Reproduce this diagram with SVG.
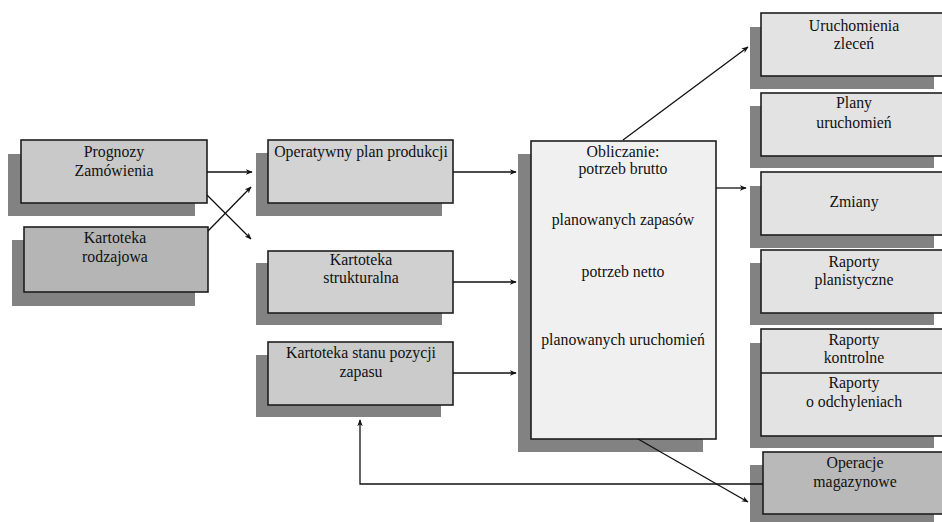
<svg xmlns="http://www.w3.org/2000/svg" width="942" height="522" viewBox="0 0 942 522">
  <style>
    .shadow { fill: #828282; }
    .box { stroke: #1e1e1e; stroke-width: 1.6; }
    text { font-family: 'Liberation Serif', 'DejaVu Serif', serif; font-size: 15.8px; fill: #111; text-anchor: middle; }
    .wire { fill: none; stroke: #111; stroke-width: 1.3; }
  </style>
  <defs>
    <marker id="arrow" viewBox="0 0 10 10" refX="9" refY="5" markerWidth="7" markerHeight="7" orient="auto" markerUnits="userSpaceOnUse">
      <path d="M0,1 L10,5 L0,9 L3,5 Z" fill="#111"/>
    </marker>
  </defs>
  <rect width="942" height="522" fill="#ffffff"/>

  <!-- inputs -->
  <g id="prognozy">
    <rect class="shadow" x="8" y="154" width="187" height="62"/>
    <rect class="box" x="21" y="140" width="186" height="63" fill="#c9c9c9"/>
    <text x="114" y="157">Prognozy</text>
    <text x="114" y="176">Zamówienia</text>
  </g>
  <g id="kartoteka-rodzajowa">
    <rect class="shadow" x="12" y="240" width="183" height="66"/>
    <rect class="box" x="24" y="227" width="184" height="65" fill="#b5b5b5"/>
    <text x="115" y="243">Kartoteka</text>
    <text x="115" y="262">rodzajowa</text>
  </g>

  <!-- files -->
  <g id="plan-produkcji">
    <rect class="shadow" x="256" y="153" width="186" height="63"/>
    <rect class="box" x="268" y="140" width="185" height="63" fill="#d3d3d3"/>
    <text x="361" y="157">Operatywny plan produkcji</text>
  </g>
  <g id="kartoteka-strukturalna">
    <rect class="shadow" x="256" y="263" width="186" height="62"/>
    <rect class="box" x="268" y="251" width="185" height="62" fill="#d0d0d0"/>
    <text x="361" y="265">Kartoteka</text>
    <text x="361" y="283">strukturalna</text>
  </g>
  <g id="kartoteka-stanu">
    <rect class="shadow" x="256" y="355" width="185" height="62"/>
    <rect class="box" x="268" y="342" width="185" height="63" fill="#cbcbcb"/>
    <text x="361" y="358">Kartoteka stanu pozycji</text>
    <text x="361" y="377">zapasu</text>
  </g>

  <!-- calculation -->
  <g id="obliczanie">
    <rect class="shadow" x="518" y="154" width="185" height="298"/>
    <rect class="box" x="531" y="141" width="185" height="298" fill="#f0f0f0"/>
    <text x="623" y="157">Obliczanie:</text>
    <text x="623" y="174">potrzeb brutto</text>
    <text x="623" y="225">planowanych zapasów</text>
    <text x="623" y="277">potrzeb netto</text>
    <text x="623" y="345">planowanych uruchomień</text>
  </g>

  <!-- outputs -->
  <g id="uruchomienia-zlecen">
    <rect class="shadow" x="750" y="27" width="184" height="62"/>
    <rect class="box" x="761" y="13" width="186" height="63" fill="#e3e3e3"/>
    <text x="854" y="31">Uruchomienia</text>
    <text x="854" y="49">zleceń</text>
  </g>
  <g id="plany-uruchomien">
    <rect class="shadow" x="750" y="106" width="184" height="62"/>
    <rect class="box" x="761" y="93" width="186" height="63" fill="#e3e3e3"/>
    <text x="854" y="108">Plany</text>
    <text x="854" y="128">uruchomień</text>
  </g>
  <g id="zmiany">
    <rect class="shadow" x="750" y="186" width="184" height="62"/>
    <rect class="box" x="761" y="172" width="186" height="63" fill="#e3e3e3"/>
    <text x="854" y="207">Zmiany</text>
  </g>
  <g id="raporty-planistyczne">
    <rect class="shadow" x="750" y="263" width="184" height="62"/>
    <rect class="box" x="761" y="250" width="186" height="63" fill="#e3e3e3"/>
    <text x="854" y="267">Raporty</text>
    <text x="854" y="285">planistyczne</text>
  </g>
  <g id="raporty-kontrolne">
    <rect class="shadow" x="750" y="343" width="184" height="105"/>
    <rect class="box" x="761" y="329" width="186" height="107" fill="#e3e3e3"/>
    <line x1="761" y1="373" x2="947" y2="373" stroke="#1e1e1e" stroke-width="1.3"/>
    <text x="854" y="345">Raporty</text>
    <text x="854" y="363">kontrolne</text>
    <text x="854" y="388">Raporty</text>
    <text x="854" y="407">o odchyleniach</text>
  </g>
  <g id="operacje-magazynowe">
    <rect class="shadow" x="750" y="465" width="184" height="60"/>
    <rect class="box" x="763" y="452" width="184" height="62" fill="#b9b9b9"/>
    <text x="855" y="468">Operacje</text>
    <text x="855" y="487">magazynowe</text>
  </g>

  <!-- connectors -->
  <g id="connectors">
    <line class="wire" x1="207" y1="172" x2="252" y2="172" marker-end="url(#arrow)"/>
    <line class="wire" x1="207" y1="195" x2="251" y2="239" marker-end="url(#arrow)"/>
    <line class="wire" x1="208" y1="231" x2="251" y2="187" marker-end="url(#arrow)"/>
    <line class="wire" x1="453" y1="172" x2="516" y2="172" marker-end="url(#arrow)"/>
    <line class="wire" x1="453" y1="282" x2="516" y2="282" marker-end="url(#arrow)"/>
    <line class="wire" x1="453" y1="373" x2="516" y2="373" marker-end="url(#arrow)"/>
    <line class="wire" x1="623" y1="140" x2="748" y2="47" marker-end="url(#arrow)"/>
    <line class="wire" x1="716" y1="188" x2="746" y2="188" marker-end="url(#arrow)"/>
    <line class="wire" x1="638" y1="439" x2="748" y2="502" marker-end="url(#arrow)"/>
    <polyline class="wire" points="763,484 360,484 360,420" marker-end="url(#arrow)"/>
  </g>
</svg>
